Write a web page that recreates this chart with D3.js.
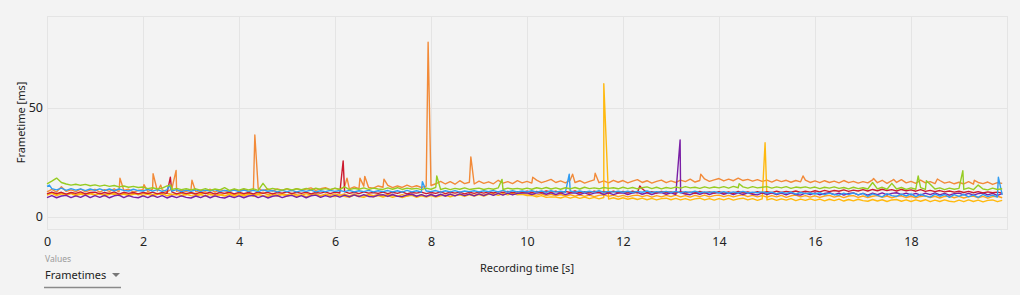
<!DOCTYPE html>
<html>
<head>
<meta charset="utf-8">
<script src="https://cdnjs.cloudflare.com/ajax/libs/d3/7.8.5/d3.min.js"></script>
<style>
  body { margin: 0; background: #f3f3f3; }
  svg { display: block; font-family: "Noto Sans", "Open Sans", sans-serif; }
</style>
</head>
<body>
<div id="chart"></div>
<script>
// frametimes sampled every 0.1 s (one row per second)
const orangeVals = [
  11.5,12.6,11.4,13.8,11.7,12.4,11.6,12.8,11.5,12.3,
  12.6,11.4,12.5,11.7,12.9,11.5,12.2,12.7,11.4,12.1,
  12.5,11.6,12.7,11.9,12.4,11.5,12.8,11.7,12.3,11.6,
  12.6,11.5,12.3,11.8,12.7,11.4,12.5,12.0,11.6,12.6,
  11.8,12.7,11.6,12.4,13.1,12.0,12.9,11.9,12.8,12.3,
  12.9,12.1,13.0,12.3,12.8,13.3,12.2,12.9,13.4,12.5,
  13.1,12.6,13.9,12.9,13.8,13.0,14.1,13.5,13.2,14.2,
  13.6,14.5,13.4,14.2,13.5,14.6,13.7,14.3,13.5,14.1,
  14.4,15.2,16.3,15.1,16.2,15.0,16.6,15.3,15.9,15.1,
  16.4,15.4,16.1,15.2,16.8,15.5,16.2,15.3,16.6,15.6,
  16.3,15.5,16.9,15.7,16.4,17.2,15.8,16.5,15.6,16.9,
  15.8,16.6,15.5,16.3,17.0,15.7,16.5,15.6,16.8,15.9,
  16.7,15.6,16.4,17.1,15.8,16.6,15.5,16.3,16.9,15.7,
  16.5,15.8,16.9,16.2,17.3,16.0,16.7,17.4,16.3,17.0,
  17.6,16.5,17.3,16.6,17.8,16.7,17.2,16.4,17.1,16.3,
  16.9,16.0,17.0,16.2,16.8,15.9,16.7,16.1,16.9,15.8,
  16.5,15.7,16.6,15.8,16.4,15.6,16.7,15.7,16.3,15.5,
  16.2,15.6,17.0,15.7,16.8,15.4,16.6,15.8,17.1,15.6,
  16.3,15.4,16.9,15.6,16.2,15.3,16.7,15.5,16.1,15.2,
  15.9,15.1,16.2,15.0,15.8,15.3,16.0,14.9,15.7,15.4
]
const greenVals = [
  15.2,16.4,17.8,15.8,15.1,14.6,15.0,14.5,14.9,14.3,
  14.7,14.1,14.6,14.0,14.4,13.8,14.2,13.6,14.0,13.5,
  13.7,13.0,13.4,12.8,13.2,14.2,12.6,13.1,12.5,12.9,
  12.4,12.9,12.3,13.0,12.2,12.8,12.4,13.4,12.2,12.9,
  12.3,13.0,12.4,12.9,12.2,15.4,12.5,13.1,12.6,12.3,
  13.0,12.4,12.9,12.5,13.1,12.4,13.2,12.6,13.0,12.5,
  13.2,12.6,13.8,12.5,13.1,12.7,13.3,12.6,13.2,12.8,
  12.6,13.3,12.7,13.4,12.6,13.2,12.8,13.1,12.5,13.2,
  12.7,13.6,12.6,13.2,12.5,13.1,12.7,13.3,12.6,12.9,
  13.2,12.6,13.1,12.7,13.3,12.6,13.2,12.8,13.1,12.7,
  13.2,12.7,13.4,12.9,13.5,12.8,13.3,12.7,13.4,12.9,
  13.5,12.8,13.6,13.0,13.3,12.9,13.5,13.1,13.4,12.9,
  13.6,13.0,13.5,12.9,13.4,13.8,13.0,13.6,12.9,13.5,
  13.1,13.7,13.2,13.9,13.3,13.6,13.1,13.8,13.2,13.7,
  13.3,13.9,13.2,14.0,13.4,13.8,13.2,13.9,13.3,13.6,
  13.9,13.2,13.8,13.3,13.9,13.1,13.7,13.4,13.8,13.2,
  13.7,13.0,13.6,13.2,13.8,13.1,13.5,12.9,13.6,13.0,
  13.4,12.8,15.8,12.9,13.6,12.7,15.4,12.8,13.5,12.6,
  13.3,12.7,13.4,12.6,15.0,12.8,13.3,12.5,13.2,12.7,
  13.1,12.6,13.3,12.5,14.6,12.8,12.4,13.2,12.6,12.9
]
const redVals = [
  10.6,11.4,10.7,11.3,10.5,11.2,10.8,11.5,10.6,11.2,
  11.4,10.6,11.2,10.7,11.5,10.5,11.3,10.8,11.2,10.6,
  11.3,10.7,11.4,10.6,11.2,10.8,11.5,10.6,11.3,10.7,
  11.2,10.6,11.4,10.7,11.3,10.5,11.2,10.8,11.4,10.6,
  11.3,10.7,11.2,10.6,11.4,10.8,11.3,10.6,11.2,10.9,
  11.5,10.7,11.3,10.8,11.4,10.6,11.2,10.9,11.5,10.7,
  11.4,11.0,11.6,10.8,11.3,10.7,11.5,10.9,11.2,10.8,
  11.4,10.7,11.3,10.8,11.5,10.6,11.2,10.9,11.4,10.7,
  11.2,10.8,11.5,10.7,11.3,10.9,11.4,10.6,11.3,10.8,
  11.4,10.9,11.5,11.0,11.6,11.2,11.7,11.1,11.6,11.3,
  11.8,11.2,11.7,11.1,11.9,11.3,11.8,11.0,11.7,11.2,
  11.9,11.1,11.6,11.0,11.8,11.3,11.7,11.0,11.8,11.1,
  11.7,11.0,11.8,11.1,12.9,11.2,11.6,11.0,11.7,11.2,
  11.5,10.9,11.6,11.0,11.4,10.8,11.7,11.0,11.5,10.9,
  11.6,10.9,11.5,10.8,11.7,11.0,11.5,10.9,11.6,11.0,
  11.6,11.1,11.8,11.2,11.7,11.3,11.9,11.2,11.8,11.4,
  12.0,11.5,12.2,11.6,12.1,11.8,12.4,11.7,12.3,11.9,
  12.5,11.9,12.6,12.0,12.7,12.1,12.5,11.9,12.6,12.0,
  12.4,11.8,12.5,11.7,12.2,11.6,12.1,11.5,11.9,11.4,
  11.8,11.2,11.7,11.1,11.6,11.0,11.5,11.1,11.4,10.9
]
const blueVals = [
  14.0,13.0,12.4,13.2,12.2,13.0,12.3,12.9,12.1,12.8,
  12.2,12.9,12.1,12.8,12.0,12.8,12.2,11.9,12.7,12.1,
  11.9,12.6,11.8,12.5,11.7,12.4,11.8,12.5,11.6,12.3,
  11.8,12.4,11.7,12.3,11.9,12.5,11.6,12.2,11.8,12.3,
  11.6,12.3,11.7,12.2,11.6,12.4,11.8,12.1,11.5,12.2,
  11.6,12.2,11.5,12.1,11.7,12.3,11.5,12.0,11.6,12.2,
  11.7,12.1,11.6,12.2,11.5,12.0,11.6,12.2,11.5,12.0,
  11.6,12.1,11.5,12.0,11.4,12.2,11.5,12.0,11.4,11.9,
  11.6,12.1,11.4,12.0,11.5,12.1,11.4,11.9,11.6,12.0,
  11.5,12.0,11.6,12.1,11.5,12.2,11.4,12.0,11.5,11.9,
  11.5,12.0,11.4,11.9,11.3,12.0,11.4,11.8,11.3,11.9,
  11.4,11.9,11.3,11.8,11.4,12.0,11.3,11.7,11.4,11.8,
  11.3,11.8,11.2,11.7,11.3,11.9,11.2,11.6,11.3,11.7,
  11.2,11.7,11.1,11.6,11.2,11.8,11.1,11.5,11.2,11.6,
  11.1,11.6,11.0,11.5,11.1,11.7,11.0,11.4,11.1,11.5,
  11.0,11.4,10.6,11.3,10.8,11.4,10.5,11.2,10.7,11.0,
  10.5,11.1,10.2,10.9,10.3,10.0,10.9,10.2,11.0,10.1,
  10.8,9.4,10.6,9.9,9.2,10.7,9.8,9.4,10.5,9.6,
  10.6,9.3,10.4,9.6,9.1,10.5,9.5,10.3,9.0,10.2,
  9.4,10.4,9.2,10.1,9.0,10.3,9.3,10.0,9.1,10.1
]
const purpleVals = [
  8.9,9.8,8.8,9.6,9.9,8.9,9.7,9.0,10.0,8.9,
  9.8,9.0,9.9,8.8,9.7,10.0,8.9,9.8,9.1,8.8,
  9.7,8.9,9.9,9.0,9.8,8.7,9.6,8.9,9.7,9.0,
  8.7,9.6,8.9,9.8,8.8,9.7,9.0,8.7,9.6,8.9,
  9.7,8.8,9.6,9.9,8.9,9.7,8.7,9.5,9.8,8.9,
  9.6,9.9,9.0,9.8,8.8,9.7,10.0,9.0,9.8,9.1,
  9.9,9.1,10.0,9.2,10.1,9.3,10.2,9.4,9.2,10.0,
  10.2,9.4,10.3,9.5,9.3,10.1,10.4,9.5,10.2,9.4,
  10.3,9.5,10.4,9.6,10.5,9.7,10.6,9.8,10.5,9.7,
  10.6,9.8,10.7,9.9,10.8,10.0,10.9,10.1,10.8,11.0,
  11.1,10.3,11.0,11.2,10.4,11.1,10.3,11.0,10.2,10.9,
  11.1,10.3,11.0,10.2,10.9,11.2,10.3,11.0,10.2,10.9,
  11.1,10.3,11.0,11.3,10.4,11.1,10.3,11.0,11.2,10.4,
  11.1,10.3,11.2,10.5,10.2,11.1,10.4,11.2,10.3,11.0,
  11.2,10.4,11.1,10.3,11.0,10.2,11.1,10.4,10.1,11.0,
  10.3,11.1,10.2,10.9,10.1,11.0,10.3,10.0,10.9,10.2,
  11.0,10.1,10.8,11.1,10.2,10.9,10.0,10.8,11.0,10.1,
  10.8,10.0,10.9,10.2,11.0,10.1,10.8,11.1,10.2,10.9,
  10.1,10.8,10.0,10.9,10.2,11.0,10.1,10.8,10.0,10.7,
  10.9,10.1,10.8,10.0,10.7,11.0,10.1,10.8,9.9,10.7
]
const amberVals = [
  10.0,10.8,9.8,10.6,9.9,10.7,9.7,10.5,9.8,10.6,
  9.9,10.7,9.6,10.4,10.8,9.8,10.5,9.7,10.4,10.7,
  9.8,10.5,9.6,10.4,10.7,9.7,10.3,10.6,9.6,10.4,
  9.8,9.5,10.3,9.6,10.5,9.4,10.2,9.6,10.4,9.5,
  10.2,9.6,10.4,9.5,10.3,9.7,9.4,10.2,9.6,10.3,
  9.5,10.2,9.4,10.1,9.3,10.0,10.3,9.4,10.1,9.5,
  9.3,10.1,9.4,9.1,10.0,9.3,9.0,9.9,9.2,9.8,
  9.1,9.8,9.0,9.7,8.9,9.6,9.9,9.0,9.7,9.1,
  9.8,9.1,9.7,10.0,9.2,9.9,10.1,9.4,10.2,9.6,
  10.3,9.6,10.4,10.6,9.9,10.7,10.1,10.8,10.2,10.4,
  9.8,9.9,9.2,9.8,9.0,9.2,9.1,8.7,9.3,8.6,
  9.2,8.5,9.1,8.4,9.0,8.3,8.9,8.2,8.8,8.1,
  8.8,8.1,8.7,8.0,8.6,7.9,8.5,7.8,8.4,8.6,
  7.9,8.5,7.8,8.4,7.7,8.3,8.6,7.8,8.4,7.7,
  8.4,7.8,8.5,7.7,8.3,8.6,7.8,8.4,7.6,8.3,
  7.8,8.4,7.6,8.3,7.7,8.4,7.5,8.2,7.6,8.3,
  7.6,8.2,7.4,8.1,7.5,8.2,7.3,8.0,7.4,8.1,
  7.5,7.2,8.0,7.3,7.9,7.1,7.8,8.0,7.2,7.8,
  7.1,7.8,7.2,7.9,7.0,7.7,7.1,7.8,7.2,6.9,
  7.7,7.0,7.8,7.1,7.7,6.9,7.6,7.8,7.0,7.6
]
const goldVals = [
  10.4,11.2,10.2,11.0,10.3,11.1,10.1,10.9,10.3,11.0,
  10.2,10.9,10.1,11.0,10.3,10.0,10.8,10.2,10.9,10.1,
  10.7,11.0,10.2,10.8,10.0,10.9,10.3,10.1,10.8,10.2,
  10.9,10.1,10.7,11.0,10.2,10.8,10.0,10.7,10.9,10.1,
  10.8,10.2,10.9,10.1,10.7,11.0,10.2,10.8,10.0,10.7,
  10.1,10.8,10.2,9.9,10.7,10.0,10.6,9.8,10.5,9.9,
  10.6,9.9,10.5,9.7,10.4,9.8,9.6,10.3,9.7,10.4,
  9.6,10.3,9.7,9.5,10.2,9.6,10.3,9.5,10.1,9.4,
  10.1,9.5,10.2,9.6,10.3,9.7,10.4,9.8,10.5,9.9,
  10.6,10.0,10.7,10.1,10.8,10.2,10.9,10.3,11.0,10.4,
  10.6,10.4,10.0,10.6,9.8,10.4,9.7,10.3,9.6,10.2,
  9.5,10.1,9.4,10.0,9.3,9.9,10.1,9.4,10.0,9.3,
  9.9,9.2,9.8,10.0,9.3,9.9,9.1,9.8,9.2,9.9,
  9.3,10.0,9.2,9.8,9.1,9.9,9.3,10.0,9.2,9.8,
  10.0,9.3,9.9,9.2,9.8,10.1,9.3,9.9,9.2,9.8,
  9.1,9.8,9.2,9.9,9.0,9.7,10.0,9.2,9.8,9.1,
  9.7,9.0,9.6,9.9,9.1,9.7,8.9,9.6,9.8,9.0,
  9.6,8.9,9.5,9.8,9.0,9.6,8.8,9.5,9.7,8.9,
  9.5,8.8,9.4,9.7,8.9,9.5,8.7,9.4,9.6,8.8,
  9.4,8.7,9.3,9.6,8.8,9.4,8.6,9.3,9.5,8.8
]

// single-frame spikes between samples: [time s, frametime ms]
const orangeSpikes = [[1.52,17.8],[2.02,14.8],[2.21,19.8],[2.37,14.6],[2.69,21.3],[3.02,16.8],
  [4.33,37.5],[6.25,17.8],[6.52,17.8],[6.62,18.6],[7.02,17.3],[7.94,80],[8.83,27.5],
  [10.12,18.2],[10.95,19.6],[11.42,20],[13.62,19.6],[15.75,18.8],[17.22,17.6],[17.64,17.2],[18.55,17.4],[19.32,16.8]]
const greenSpikes = [[2.58,14.5],[8.12,18.8],[9.48,17.2],[14.42,15.2],[18.15,18.8],[18.32,16.6],[19.08,21.2]]
const redSpikes = [[2.57,18.2],[6.17,25.7],[12.35,14.2]]
const blueSpikes = [[0.05,14.6],[2.55,14.6],[7.82,16.2],[10.88,19.6],[19.82,18.2]]
const purpleSpikes = [[13.19,35.3]]
const amberSpikes = [[11.6,61],[14.96,34]]
const goldSpikes = []

const seriesNames = ["orange", "gold", "amber", "purple", "red", "blue", "green"]
const seriesColors = ["#f28a38", "#ffa21a", "#ffb90f", "#7a1fa6", "#cc1a2e", "#2f9cf2", "#96cc22"]
const seriesValues = [orangeVals, goldVals, amberVals, purpleVals, redVals, blueVals, greenVals]
const seriesSpikes = [orangeSpikes, goldSpikes, amberSpikes, purpleSpikes, redSpikes, blueSpikes, greenSpikes]

const xTicks = [0, 2, 4, 6, 8, 10, 12, 14, 16, 18]
const yTicks = [0, 50]

var width = 1020,
    height = 295,
    plotLeft = 47,
    plotRight = 1007,
    plotTop = 16,
    plotBottom = 229

const svg = d3.select("#chart")
  .append("svg")
  .attr("width", width)
  .attr("height", height)

const x = d3.scaleLinear().domain([0, 20]).range([plotLeft, plotRight])
const y = d3.scaleLinear().domain([-5.5, 92]).range([plotBottom, plotTop])

// grid + frame
const grid = svg.append("g").attr("stroke", "#e4e4e4").attr("stroke-width", 1)
grid.selectAll(".vg").data(xTicks.slice(1)).enter().append("line")
  .attr("x1", d => Math.round(x(d)) + 0.5).attr("x2", d => Math.round(x(d)) + 0.5)
  .attr("y1", plotTop).attr("y2", plotBottom)
grid.selectAll(".hg").data(yTicks).enter().append("line")
  .attr("x1", plotLeft).attr("x2", plotRight)
  .attr("y1", d => Math.round(y(d)) + 0.5).attr("y2", d => Math.round(y(d)) + 0.5)
grid.append("rect")
  .attr("x", plotLeft + 0.5).attr("y", plotTop + 0.5)
  .attr("width", plotRight - plotLeft).attr("height", plotBottom - plotTop)
  .attr("fill", "none")

// lines
const line = d3.line().x(d => x(d[0])).y(d => y(d[1]))
const plot = svg.append("g")
for (let s = 0; s < seriesNames.length; s++) {
  var pts = seriesValues[s].map((v, i) => [i / 10, v]).concat(seriesSpikes[s])
  pts.sort((a, b) => a[0] - b[0])
  plot.append("path")
    .datum(pts)
    .attr("fill", "none")
    .attr("stroke", seriesColors[s])
    .attr("stroke-width", 1.4)
    .attr("stroke-linejoin", "round")
    .attr("d", line)
}

// axes
const xAxis = d3.axisBottom(x).tickValues(xTicks).tickSize(0).tickPadding(8)
const yAxis = d3.axisLeft(y).tickValues(yTicks).tickSize(0).tickPadding(4)

const gx = svg.append("g").attr("transform", "translate(0," + plotBottom + ")").call(xAxis)
const gy = svg.append("g").attr("transform", "translate(" + plotLeft + ",0)").call(yAxis)
gx.select(".domain").remove()
gy.select(".domain").remove()
svg.selectAll(".tick text")
  .attr("fill", "#222")
  .style("font-size", "12.5px")
  .style("font-family", "'Noto Sans', sans-serif")

svg.append("text")
  .attr("transform", "translate(21," + ((plotTop + plotBottom) / 2) + ") rotate(-90)")
  .attr("text-anchor", "middle")
  .attr("dy", "0.35em")
  .attr("fill", "#222")
  .style("font-size", "11px")
  .text("Frametime [ms]")

svg.append("text")
  .attr("x", (plotLeft + plotRight) / 2)
  .attr("y", 272)
  .attr("text-anchor", "middle")
  .attr("fill", "#222")
  .style("font-size", "11px")
  .text("Recording time [s]")

// "Values" dropdown under the chart
svg.append("text")
  .attr("x", 45).attr("y", 262)
  .attr("fill", "#9a9a9a")
  .style("font-size", "8.5px")
  .text("Values")
svg.append("text")
  .attr("x", 45).attr("y", 279)
  .attr("fill", "#222")
  .style("font-size", "11px")
  .text("Frametimes")
svg.append("path")
  .attr("d", "M112,273 L120,273 L116,277 Z")
  .attr("fill", "#777")
svg.append("line")
  .attr("x1", 44).attr("x2", 121)
  .attr("y1", 287.5).attr("y2", 287.5)
  .attr("stroke", "#8a8a8a")
  .attr("stroke-width", 1.3)
</script>
</body>
</html>
